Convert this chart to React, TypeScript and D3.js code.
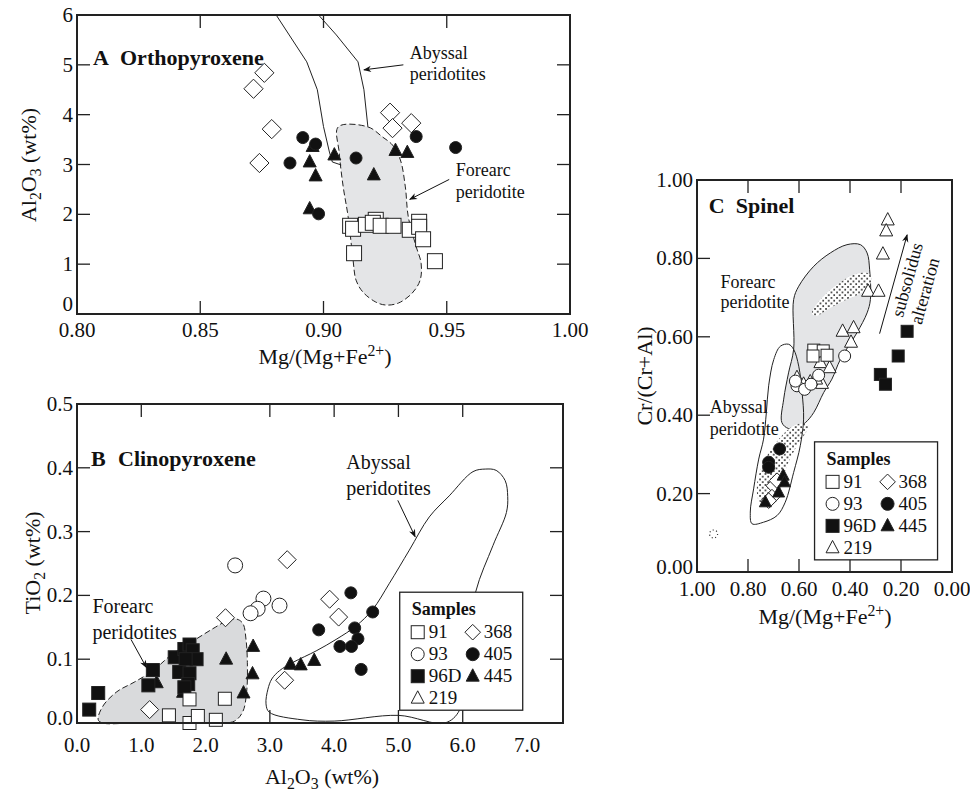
import React, { useEffect, useRef } from "react";
import * as d3 from "d3";

const FONT = "'Liberation Serif', 'Times New Roman', serif";

// ---- panel A: orthopyroxene, [Mg#, Al2O3 wt%]
const opx91 = [[0.9108, 1.77], [0.912, 1.71], [0.9172, 1.79], [0.9212, 1.89], [0.92, 1.83], [0.9232, 1.77], [0.9284, 1.77], [0.935, 1.69], [0.9388, 1.85], [0.9388, 1.75], [0.9404, 1.5], [0.9124, 1.22], [0.9452, 1.06]];
const opx368 = [[0.876, 4.84], [0.8716, 4.52], [0.879, 3.71], [0.874, 3.03], [0.927, 4.04], [0.928, 3.73], [0.9356, 3.83]];
const opx445 = [[0.8956, 3.36], [0.8944, 3.05], [0.8968, 2.77], [0.8944, 2.11], [0.9044, 3.19], [0.9204, 2.79], [0.9292, 3.28], [0.934, 3.24]];
const opx405 = [[0.8916, 3.54], [0.8968, 3.41], [0.8864, 3.03], [0.898, 2.01], [0.9132, 3.13], [0.9376, 3.56], [0.9536, 3.34]];
const opxAbyssal = [[0.9072, 2.99], [0.9036, 3.05], [0.9024, 3.25], [0.9, 3.76], [0.8975, 4.5], [0.8932, 5.06], [0.8808, 6], [0.898, 6], [0.9052, 5.6], [0.914, 5.06], [0.9164, 4.5], [0.918, 3.76]];
const opxForearc = [[0.906, 3.755], [0.918, 3.755], [0.924, 3.55], [0.928, 3.39], [0.9312, 3.09], [0.9332, 2.55], [0.9344, 1.95], [0.9376, 1.35], [0.9396, 1.02], [0.9392, 0.68], [0.936, 0.42], [0.9304, 0.22], [0.9252, 0.18], [0.9212, 0.24], [0.916, 0.44], [0.9132, 0.68], [0.912, 1.08], [0.91, 1.95], [0.908, 2.55], [0.9064, 3.23]];

// ---- panel B: clinopyroxene, [Al2O3, TiO2]
const cpx91 = [[1.43, 0.012], [1.75, 0.0], [1.88, 0.011], [2.16, 0.005], [2.3, 0.038], [1.75, 0.037]];
const cpx93 = [[2.46, 0.247], [2.9, 0.195], [2.81, 0.179], [2.7, 0.172], [3.15, 0.184]];
const cpx96D = [[0.19, 0.021], [0.33, 0.047], [1.18, 0.083], [1.11, 0.059], [1.52, 0.103], [1.67, 0.116], [1.75, 0.123], [1.8, 0.114], [1.86, 0.1], [1.69, 0.1], [1.59, 0.08], [1.75, 0.078], [1.73, 0.061], [1.67, 0.056]];
const cpx368 = [[3.27, 0.256], [2.31, 0.165], [3.93, 0.194], [4.07, 0.166], [3.23, 0.067], [1.13, 0.021]];
const cpx445 = [[2.74, 0.12], [2.32, 0.1], [2.73, 0.077], [2.59, 0.047], [3.32, 0.092], [3.48, 0.091], [3.69, 0.098], [1.24, 0.063], [1.65, 0.048]];
const cpx405 = [[4.26, 0.204], [4.6, 0.174], [3.76, 0.146], [4.32, 0.149], [4.37, 0.132], [4.09, 0.12], [4.27, 0.12], [4.42, 0.084]];
const cpxForearc = [[0.33, 0.005], [0.4, 0.026], [0.62, 0.049], [0.89, 0.064], [1.18, 0.082], [1.47, 0.107], [1.86, 0.132], [2.15, 0.15], [2.35, 0.161], [2.48, 0.163], [2.58, 0.156], [2.63, 0.13], [2.65, 0.095], [2.64, 0.05], [2.58, 0.018], [2.45, 0.003], [2.2, 0.0], [0.9, 0.0], [0.4, 0.0]];
const cpxAbyssal = [[2.99, 0.017], [2.94, 0.03], [2.97, 0.053], [3.03, 0.069], [3.15, 0.082], [3.36, 0.095], [3.72, 0.113], [4.03, 0.131], [4.34, 0.152], [4.6, 0.178], [4.86, 0.219], [5.17, 0.271], [5.48, 0.323], [5.79, 0.356], [6.16, 0.394], [6.35, 0.398], [6.52, 0.396], [6.66, 0.38], [6.7, 0.355], [6.68, 0.33], [6.47, 0.278], [6.2, 0.205], [6.05, 0.1], [5.95, 0.02], [5.72, 0.0], [5.0, 0.012], [4.0, 0.003], [3.5, 0.005]];

// ---- panel C: spinel, [Mg#, Cr#]
const spl91 = [[0.542, 0.566], [0.505, 0.564], [0.545, 0.551], [0.49, 0.553]];
const spl93 = [[0.421, 0.551], [0.608, 0.475], [0.578, 0.466], [0.553, 0.479], [0.523, 0.502], [0.614, 0.487]];
const spl219 = [[0.252, 0.898], [0.258, 0.87], [0.271, 0.811], [0.329, 0.716], [0.288, 0.716], [0.429, 0.614], [0.386, 0.623], [0.396, 0.586], [0.516, 0.534], [0.48, 0.521], [0.51, 0.481], [0.556, 0.485], [0.533, 0.492], [0.608, 0.496], [0.582, 0.479]];
const spl96D = [[0.176, 0.614], [0.211, 0.551], [0.281, 0.504], [0.261, 0.479]];
const spl405 = [[0.676, 0.314], [0.719, 0.28], [0.719, 0.267]];
const spl368 = [[0.699, 0.22], [0.706, 0.191], [0.719, 0.182], [0.686, 0.233]];
const spl445 = [[0.662, 0.246], [0.657, 0.229], [0.732, 0.178], [0.68, 0.203]];
const splAbyssal = [[0.784, 0.123], [0.791, 0.153], [0.778, 0.212], [0.758, 0.288], [0.739, 0.339], [0.728, 0.407], [0.719, 0.475], [0.699, 0.542], [0.673, 0.576], [0.641, 0.581], [0.621, 0.568], [0.601, 0.525], [0.588, 0.458], [0.582, 0.39], [0.595, 0.322], [0.621, 0.254], [0.654, 0.178], [0.686, 0.144], [0.739, 0.127]];
const splForearc = [[0.667, 0.381], [0.66, 0.441], [0.641, 0.508], [0.621, 0.568], [0.621, 0.695], [0.601, 0.729], [0.542, 0.78], [0.477, 0.814], [0.412, 0.835], [0.359, 0.835], [0.333, 0.814], [0.323, 0.771], [0.32, 0.695], [0.333, 0.661], [0.373, 0.61], [0.438, 0.542], [0.471, 0.492], [0.503, 0.458], [0.542, 0.407], [0.575, 0.381], [0.608, 0.369], [0.641, 0.366]];
const splStippleUp = [[0.549, 0.659], [0.516, 0.695], [0.451, 0.733], [0.386, 0.758], [0.333, 0.763], [0.314, 0.746], [0.346, 0.716], [0.412, 0.695], [0.477, 0.674], [0.529, 0.654]];
const splStippleLow = [[0.641, 0.364], [0.699, 0.322], [0.739, 0.28], [0.765, 0.22], [0.755, 0.18], [0.72, 0.172], [0.693, 0.178], [0.673, 0.212], [0.647, 0.271], [0.608, 0.322], [0.562, 0.373], [0.6, 0.378]];

const legendRows = [["91", "square", false], ["368", "diamond", false], ["93", "circle", false], ["405", "circle", true], ["96D", "square", true], ["445", "triangle", true], ["219", "triangle", false]];

export default function App() {
  const ref = useRef(null);

  useEffect(() => {
    const svg = d3.select(ref.current);
    svg.selectAll("*").remove();

    const defs = svg.append("defs");
    const pat = defs.append("pattern").attr("id", "dots").attr("width", 5.5).attr("height", 5.5).attr("patternUnits", "userSpaceOnUse");
    pat.append("rect").attr("width", 5.5).attr("height", 5.5).attr("fill", "white");
    pat.append("circle").attr("cx", 1).attr("cy", 1).attr("r", 0.9).attr("fill", "#111");
    pat.append("circle").attr("cx", 3.75).attr("cy", 3.75).attr("r", 0.9).attr("fill", "#111");
    defs.append("marker").attr("id", "arr").attr("viewBox", "0 0 10 10").attr("refX", 9).attr("refY", 5)
      .attr("markerWidth", 15).attr("markerHeight", 8).attr("markerUnits", "userSpaceOnUse").attr("orient", "auto")
      .append("path").attr("d", "M0,1 L10,5 L0,9 L3,5 Z").attr("fill", "#111");

    const txt = (g, x, y, s, size = 18, opts = {}) =>
      g.append("text").attr("x", x).attr("y", y).attr("font-family", FONT).attr("font-size", size)
        .attr("font-weight", opts.bold ? "bold" : null).attr("text-anchor", opts.anchor || "start").attr("fill", "#111").text(s);

    const sym = (g, type, cx, cy, s, filled) => {
      const fill = filled ? "#111" : "white";
      const common = (e) => e.attr("fill", fill).attr("stroke", "#222").attr("stroke-width", 1);
      if (type === "square") common(g.append("rect").attr("x", cx - s / 2).attr("y", cy - s / 2).attr("width", s).attr("height", s));
      else if (type === "circle") common(g.append("circle").attr("cx", cx).attr("cy", cy).attr("r", s / 2));
      else if (type === "diamond") {
        const h = s * 0.6;
        common(g.append("path").attr("d", `M${cx},${cy - h}L${cx + h},${cy}L${cx},${cy + h}L${cx - h},${cy}Z`));
      } else {
        const h = s * 0.95;
        common(g.append("path").attr("d", `M${cx},${cy - h * 0.6}L${cx + s / 2},${cy + h * 0.4}L${cx - s / 2},${cy + h * 0.4}Z`));
      }
    };

    const pts = (g, data, x, y, type, s, filled) => data.forEach((d) => sym(g, type, x(d[0]), y(d[1]), s, filled));

    const frame = (g, x, y, ticks, fmtX, fmtY, xLabels, yLabels, labelGap, zeroShift) => {
      const [x0, x1] = x.range();
      const [y0, y1] = y.range();
      const L = 13;
      ticks.left.forEach((v) => g.append("line").attr("x1", x0).attr("x2", x0 + L).attr("y1", y(v)).attr("y2", y(v)));
      ticks.right.forEach((v) => g.append("line").attr("x1", x1).attr("x2", x1 - L).attr("y1", y(v)).attr("y2", y(v)));
      ticks.top.forEach((v) => g.append("line").attr("x1", x(v)).attr("x2", x(v)).attr("y1", y1).attr("y2", y1 + L));
      ticks.bottom.forEach((v) => g.append("line").attr("x1", x(v)).attr("x2", x(v)).attr("y1", y0).attr("y2", y0 - L));
      g.selectAll("line").attr("stroke", "#222").attr("stroke-width", 1.3);
      g.append("rect").attr("x", Math.min(x0, x1)).attr("y", y1).attr("width", Math.abs(x1 - x0)).attr("height", y0 - y1)
        .attr("fill", "none").attr("stroke", "#222").attr("stroke-width", 2);
      xLabels.forEach((v) => txt(g, x(v), y0 + labelGap, fmtX(v), 21, { anchor: "middle" }));
      yLabels.forEach((v, i) => txt(g, Math.min(x0, x1) - 4, y(v) + (i === 0 ? zeroShift : 7), fmtY(v), 21, { anchor: "end" }));
    };

    const legend = (g, lx, ly) => {
      g.append("rect").attr("x", lx).attr("y", ly).attr("width", 123).attr("height", 118).attr("fill", "white").attr("stroke", "#222").attr("stroke-width", 1.3);
      txt(g, lx + 12, ly + 23, "Samples", 18, { bold: true });
      legendRows.forEach((r, i) => {
        const col = i % 2, row = Math.floor(i / 2);
        const cy = ly + 46 + row * 22;
        const sx = lx + (col ? 73 : 18);
        sym(g, r[1], sx, cy - 6, 13, r[2]);
        txt(g, sx + 11, cy, r[0], 19);
      });
    };

    const arrow = (g, a, b) =>
      g.append("line").attr("x1", a[0]).attr("y1", a[1]).attr("x2", b[0]).attr("y2", b[1])
        .attr("stroke", "#111").attr("stroke-width", 1).attr("marker-end", "url(#arr)");

    const subTitle = (g, x, y, parts, size, rotate) => {
      const t = g.append("text").attr("font-family", FONT).attr("font-size", size).attr("fill", "#111").attr("text-anchor", "middle")
        .attr("transform", `translate(${x},${y})${rotate ? " rotate(-90)" : ""}`);
      let shift = 0;
      parts.forEach(([s, kind]) => {
        const target = kind === "sub" ? 5 : kind === "sup" ? -8 : 0;
        t.append("tspan").attr("dy", target - shift).attr("font-size", kind ? size * 0.72 : size).text(s);
        shift = target;
      });
    };

    // ---------- Panel A
    const gA = svg.append("g");
    const xA = d3.scaleLinear().domain([0.8, 1.0]).range([77, 570]);
    const yA = d3.scaleLinear().domain([0, 6]).range([314, 15]);
    const lineA = d3.line().x((d) => xA(d[0])).y((d) => yA(d[1]));
    gA.append("path").attr("d", lineA.curve(d3.curveCatmullRomClosed)(opxForearc)).attr("fill", "#e4e5e7")
      .attr("stroke", "#222").attr("stroke-width", 1).attr("stroke-dasharray", "6,3");
    gA.append("path").attr("d", lineA.curve(d3.curveLinear)(opxAbyssal)).attr("fill", "none").attr("stroke", "#222").attr("stroke-width", 1);
    pts(gA, opx368, xA, yA, "diamond", 16, false);
    pts(gA, opx445, xA, yA, "triangle", 13, true);
    pts(gA, opx405, xA, yA, "circle", 12, true);
    pts(gA, opx91, xA, yA, "square", 15, false);
    frame(gA, xA, yA, { left: [1, 2, 3, 4, 5], right: [1, 2, 3, 4, 5], top: [0.85, 0.9, 0.95], bottom: [0.85, 0.9, 0.95] },
      d3.format(".2f"), d3.format("d"), [0.8, 0.85, 0.9, 0.95, 1.0], [0, 1, 2, 3, 4, 5, 6], 23, -3);
    txt(gA, 93, yA(5), "A", 22, { bold: true });
    txt(gA, 93 + 27, yA(5), "Orthopyroxene", 22, { bold: true });
    txt(gA, xA(0.935), yA(5.12), "Abyssal");
    txt(gA, xA(0.935), yA(4.7), "peridotites");
    arrow(gA, [xA(0.9324), yA(5.0)], [xA(0.9164), yA(4.9)]);
    txt(gA, xA(0.9537), yA(2.76), "Forearc");
    txt(gA, xA(0.9537), yA(2.33), "peridotite");
    arrow(gA, [xA(0.951), yA(2.7)], [xA(0.935), yA(2.3)]);
    subTitle(gA, 325, 364, [["Mg/(Mg+Fe"], ["2+", "sup"], [")"]], 22, false);
    subTitle(gA, 36, 165, [["Al"], ["2", "sub"], ["O"], ["3", "sub"], [" (wt%)"]], 22, true);

    // ---------- Panel B
    const gB = svg.append("g");
    const xB = d3.scaleLinear().domain([0, 7.56]).range([77, 563]);
    const yB = d3.scaleLinear().domain([0, 0.5]).range([723, 404]);
    const lineB = d3.line().x((d) => xB(d[0])).y((d) => yB(d[1]));
    gB.append("path").attr("d", lineB.curve(d3.curveCatmullRomClosed)(cpxForearc)).attr("fill", "#d9dadc")
      .attr("stroke", "#222").attr("stroke-width", 1).attr("stroke-dasharray", "6,3");
    gB.append("path").attr("d", lineB.curve(d3.curveCatmullRomClosed)(cpxAbyssal)).attr("fill", "none").attr("stroke", "#222").attr("stroke-width", 1);
    pts(gB, cpx368, xB, yB, "diamond", 15, false);
    pts(gB, cpx93, xB, yB, "circle", 15, false);
    pts(gB, cpx445, xB, yB, "triangle", 13, true);
    pts(gB, cpx96D, xB, yB, "square", 13, true);
    pts(gB, cpx91, xB, yB, "square", 13, false);
    pts(gB, cpx405, xB, yB, "circle", 12, true);
    frame(gB, xB, yB, { left: [0.1, 0.2, 0.3, 0.4], right: [0.1, 0.2, 0.3, 0.4], top: [1, 3, 4, 5, 6], bottom: [3, 5, 6] },
      d3.format(".1f"), d3.format(".1f"), [0, 1, 2, 3, 4, 5, 6, 7], [0, 0.1, 0.2, 0.3, 0.4, 0.5], 29, 2);
    legend(gB, xB(5.02), yB(0.205));
    txt(gB, 91, yB(0.403), "B", 22, { bold: true });
    txt(gB, 91 + 27, yB(0.403), "Clinopyroxene", 22, { bold: true });
    txt(gB, xB(4.19), yB(0.398), "Abyssal", 20);
    txt(gB, xB(4.19), yB(0.357), "peridotites", 20);
    arrow(gB, [xB(4.99), yB(0.349)], [xB(5.26), yB(0.292)]);
    txt(gB, xB(0.24), yB(0.172), "Forearc", 20);
    txt(gB, xB(0.24), yB(0.132), "peridotites", 20);
    arrow(gB, [xB(0.84), yB(0.131)], [xB(1.08), yB(0.087)]);
    subTitle(gB, 322, 784, [["Al"], ["2", "sub"], ["O"], ["3", "sub"], [" (wt%)"]], 22, false);
    subTitle(gB, 40, 563, [["TiO"], ["2", "sub"], [" (wt%)"]], 22, true);

    // ---------- Panel C
    const gC = svg.append("g");
    const xC = d3.scaleLinear().domain([1, 0]).range([697, 952]);
    const yC = d3.scaleLinear().domain([0, 1]).range([572, 180]);
    const lineC = d3.line().x((d) => xC(d[0])).y((d) => yC(d[1])).curve(d3.curveCatmullRomClosed);
    gC.append("path").attr("d", lineC(splForearc)).attr("fill", "#e4e5e7").attr("stroke", "#222").attr("stroke-width", 1);
    gC.append("path").attr("d", lineC(splStippleUp)).attr("fill", "url(#dots)");
    gC.append("path").attr("d", lineC(splStippleLow)).attr("fill", "url(#dots)");
    gC.append("path").attr("d", lineC(splAbyssal)).attr("fill", "none").attr("stroke", "#222").attr("stroke-width", 1);
    gC.append("circle").attr("cx", xC(0.935)).attr("cy", yC(0.097)).attr("r", 4).attr("fill", "none")
      .attr("stroke", "#222").attr("stroke-width", 1.2).attr("stroke-dasharray", "1,2.5");
    pts(gC, spl219, xC, yC, "triangle", 13, false);
    pts(gC, spl91, xC, yC, "square", 12, false);
    pts(gC, spl93, xC, yC, "circle", 12, false);
    pts(gC, spl96D, xC, yC, "square", 12, true);
    pts(gC, spl405, xC, yC, "circle", 12, true);
    pts(gC, spl368, xC, yC, "diamond", 13, false);
    pts(gC, spl445, xC, yC, "triangle", 12, true);
    frame(gC, xC, yC, { left: [0.2, 0.4, 0.6, 0.8], right: [], top: [0.8, 0.6, 0.4, 0.2], bottom: [0.8, 0.6, 0.4, 0.2] },
      d3.format(".2f"), d3.format(".2f"), [1, 0.8, 0.6, 0.4, 0.2, 0], [0, 0.2, 0.4, 0.6, 0.8, 1], 24, 2);
    legend(gC, xC(0.539), yC(0.332));
    txt(gC, xC(0.954), yC(0.915), "C", 22, { bold: true });
    txt(gC, xC(0.954) + 27, yC(0.915), "Spinel", 22, { bold: true });
    txt(gC, xC(0.908), yC(0.725), "Forearc");
    txt(gC, xC(0.908), yC(0.673), "peridotite");
    txt(gC, xC(0.95), yC(0.405), "Abyssal");
    txt(gC, xC(0.95), yC(0.35), "peridotite");
    arrow(gC, [xC(0.284), yC(0.608)], [xC(0.176), yC(0.86)]);
    const a1 = [xC(0.172), yC(0.745)];
    gC.append("text").attr("transform", `translate(${a1[0]},${a1[1]}) rotate(-74.4)`).attr("font-family", FONT).attr("font-size", 18)
      .attr("text-anchor", "middle").attr("fill", "#111")
      .selectAll("tspan").data(["subsolidus", "alteration"]).join("tspan").attr("x", (d, i) => (i ? -6 : 0)).attr("dy", (d, i) => (i ? 20 : 5)).text((d) => d);
    subTitle(gC, 825, 624, [["Mg/(Mg+Fe"], ["2+", "sup"], [")"]], 22, false);
    subTitle(gC, 652, 376, [["Cr/(Cr+Al)"]], 22, true);
  }, []);

  return <svg ref={ref} width={970} height={796} style={{ position: "absolute", left: 0, top: 0, background: "white" }} />;
}
